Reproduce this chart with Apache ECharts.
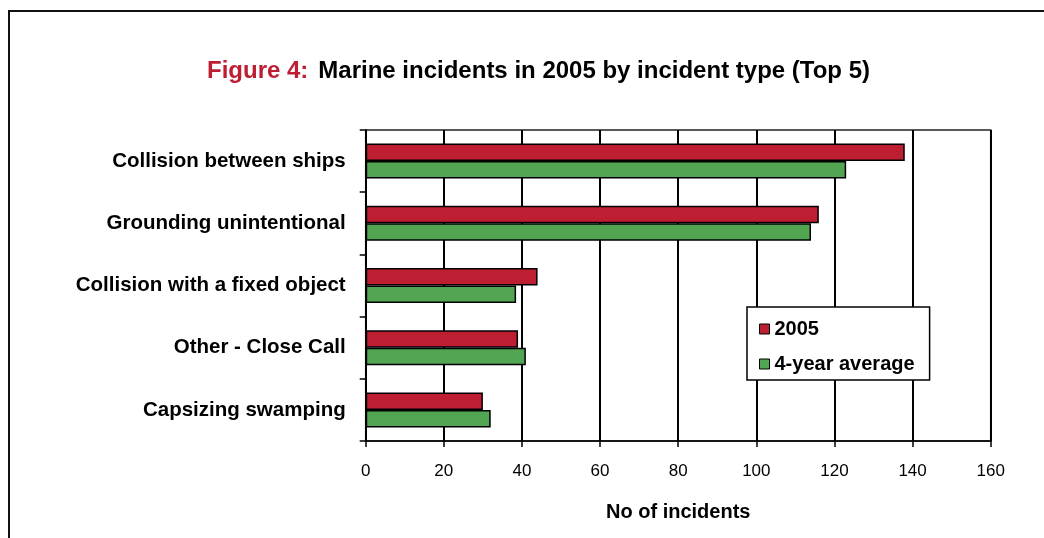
<!DOCTYPE html>
<html>
<head>
<meta charset="utf-8">
<script src="https://cdn.jsdelivr.net/npm/echarts@6/dist/echarts.min.js"></script>
<style>
  html, body { margin: 0; padding: 0; background: #fff; }
  #chart { width: 1044px; height: 538px; }
</style>
</head>
<body>
<div id="chart"></div>
<script>
// Incident types, top to bottom
const categories = [
  'Collision between ships',
  'Grounding unintentional',
  'Collision with a fixed object',
  'Other - Close Call',
  'Capsizing swamping'
];
// Number of incidents in 2005
const incidents2005 = [138, 116, 44, 39, 30];
// Four-year average number of incidents
const fourYearAverage = [123, 114, 38.5, 41, 32];
// Value axis ticks
const xTicks = [0, 20, 40, 60, 80, 100, 120, 140, 160];

const RED = '#BE1E32';
const GREEN = '#52A552';
const FONT = '"Liberation Sans", Arial, sans-serif';

const chart = echarts.init(document.getElementById('chart'), null, { renderer: 'canvas' });

chart.setOption({
  backgroundColor: '#ffffff',
  animation: false,
  textStyle: { fontFamily: FONT, color: '#000' },
  title: {
    left: 202,
    top: 54,
    text: '{red|Figure 4:}  {black|Marine incidents in 2005 by incident type (Top 5)}',
    textStyle: {
      rich: {
        red: { color: RED, fontSize: 24, fontWeight: 'bold', fontFamily: FONT },
        black: { color: '#000', fontSize: 24, fontWeight: 'bold', fontFamily: FONT }
      }
    }
  },
  legend: {
    orient: 'vertical',
    left: 747,
    top: 307,
    padding: [11, 15, 5, 12],
    itemGap: 13,
    itemWidth: 10,
    itemHeight: 10,
    icon: 'rect',
    backgroundColor: '#fff',
    borderColor: '#000',
    borderWidth: 1.5,
    itemStyle: { borderColor: '#000', borderWidth: 1 },
    textStyle: { fontSize: 20, fontWeight: 'bold', color: '#000', fontFamily: FONT, lineHeight: 22 },
    data: ['2005', '4-year average']
  },
  grid: {
    left: 365.7,
    right: 53.3,
    top: 130,
    bottom: 97,
    show: true,
    borderColor: '#222',
    borderWidth: 1.5,
    containLabel: false
  },
  xAxis: {
    type: 'value',
    min: xTicks[0],
    max: xTicks[xTicks.length - 1],
    interval: 20,
    name: 'No of incidents',
    nameLocation: 'middle',
    nameGap: 61,
    nameTextStyle: { fontSize: 20, fontWeight: 'bold', color: '#000', fontFamily: FONT },
    axisLine: { show: true, lineStyle: { color: '#000', width: 1.5 } },
    axisTick: { show: true, length: 6, lineStyle: { color: '#000', width: 1.5 } },
    axisLabel: { margin: 22, fontSize: 17, color: '#000', fontFamily: FONT },
    splitLine: { show: true, lineStyle: { color: '#000', width: 2 } }
  },
  yAxis: {
    type: 'category',
    data: categories,
    inverse: true,
    axisLine: { show: true, lineStyle: { color: '#000', width: 1.5 } },
    axisTick: { show: true, length: 6, lineStyle: { color: '#000', width: 1.5 } },
    axisLabel: {
      margin: 20,
      fontSize: 20.5,
      fontWeight: 'bold',
      color: '#000',
      fontFamily: FONT,
      padding: [8, 0, 0, 0]
    },
    splitLine: { show: false }
  },
  series: [
    {
      name: '2005',
      type: 'bar',
      data: incidents2005,
      barWidth: 17.5,
      barGap: '0%',
      itemStyle: { color: RED, borderColor: '#000', borderWidth: 1.5 }
    },
    {
      name: '4-year average',
      type: 'bar',
      data: fourYearAverage,
      barWidth: 17.5,
      barGap: '0%',
      itemStyle: { color: GREEN, borderColor: '#000', borderWidth: 1.5 }
    }
  ],
  graphic: [
    {
      type: 'polyline',
      silent: true,
      shape: { points: [[9, 538], [9, 11], [1044, 11]] },
      style: { stroke: '#111', lineWidth: 2, fill: null }
    }
  ]
});
</script>
</body>
</html>
